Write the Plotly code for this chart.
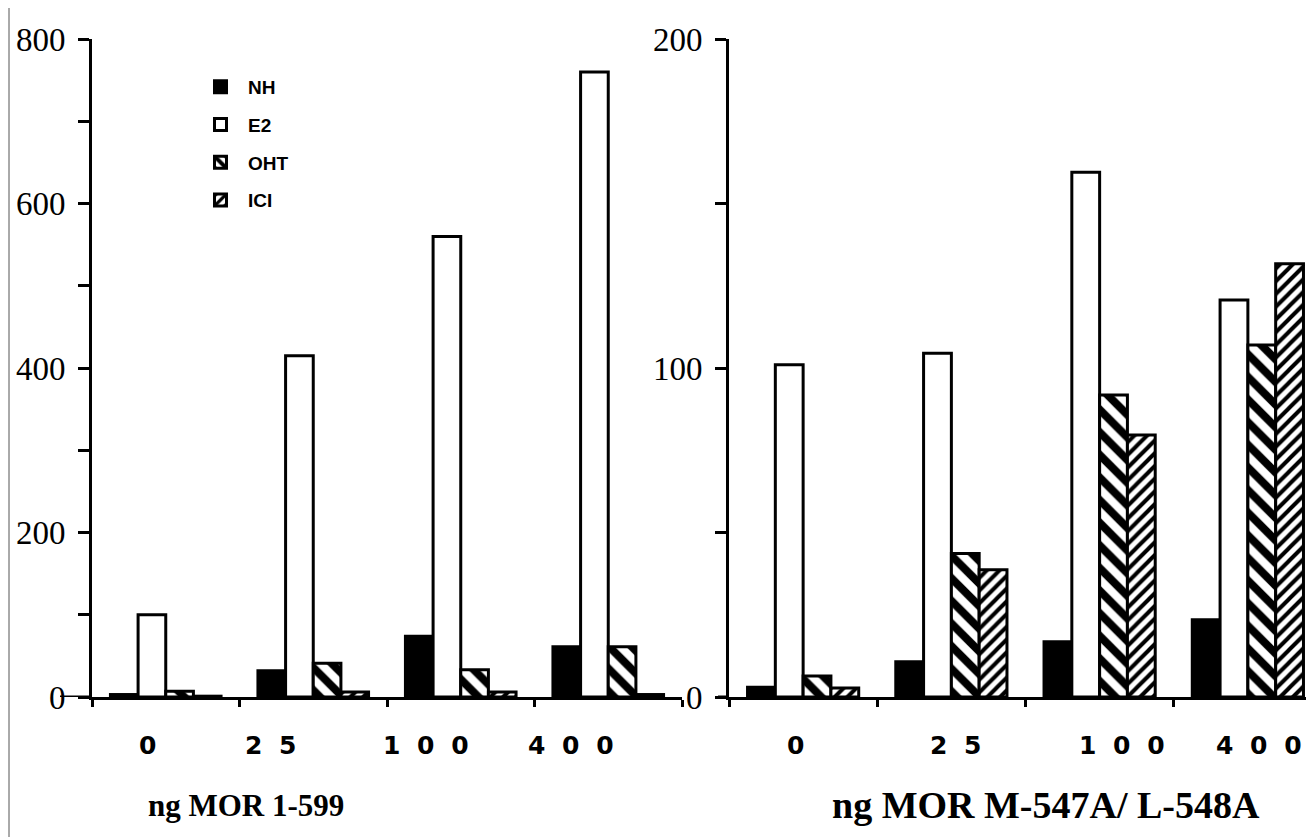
import plotly.graph_objects as go

# ---- data ----
doses = ["0", "25", "100", "400"]
sp = "\u2002\u2006"
dose_labels = ["0", "2" + sp + "5", "1" + sp + "0" + sp + "0", "4" + sp + "0" + sp + "0"]
series = ["NH", "E2", "OHT", "ICI"]

left_NH = [3, 32, 74, 61]
left_E2 = [100, 415, 560, 760]
left_OHT = [7, 41, 33, 61]
left_ICI = [1, 6, 6, 3]

right_NH = [3, 10.7, 16.8, 23.5]
right_E2 = [101, 104.5, 159.5, 120.7]
right_OHT = [6.4, 43.6, 91.8, 107]
right_ICI = [2.7, 38.7, 79.6, 131.7]

left_title = "ng MOR 1-599"
right_title = "ng MOR M-547A/ L-548A"

W, H = 1314, 837
OFF = 8  # page body margin
styles = {
    "NH": dict(color="black"),
    "E2": dict(color="white"),
    "OHT": dict(color="white", pattern=dict(shape="\\", fgcolor="black", bgcolor="white",
                                           fgopacity=1, size=16, solidity=0.5)),
    "ICI": dict(color="white", pattern=dict(shape="/", fgcolor="black", bgcolor="white",
                                           fgopacity=1, size=9, solidity=0.45)),
}

fig = go.Figure()
left_vals = [left_NH, left_E2, left_OHT, left_ICI]
right_vals = [right_NH, right_E2, right_OHT, right_ICI]
for name, vals in zip(series, left_vals):
    fig.add_trace(go.Bar(x=doses, y=vals, name=name, legendgroup=name,
                         marker=dict(**styles[name], line=dict(color="black", width=3)),
                         xaxis="x", yaxis="y"))
for name, vals in zip(series, right_vals):
    fig.add_trace(go.Bar(x=doses, y=vals, name=name, legendgroup=name, showlegend=False,
                         marker=dict(**styles[name], line=dict(color="black", width=3)),
                         xaxis="x2", yaxis="y2"))


def px(x):
    return (x - OFF) / W


tickfont = dict(family="Liberation Serif", size=33, color="black")
common_x = dict(type="category", showline=True, linecolor="black", linewidth=3,
                ticks="outside", tickson="boundaries", ticklen=7, tickwidth=3, tickcolor="black",
                showticklabels=False, showgrid=False, zeroline=False, fixedrange=True)
common_y = dict(showline=True, linecolor="black", linewidth=3, ticks="outside", ticklen=11,
                tickwidth=3, tickcolor="black", showgrid=False, zeroline=False,
                tickfont=tickfont, ticklabelstandoff=6)

top, bottom = 39 - OFF, 697 - OFF
plot_h = bottom - top

fig.update_layout(
    width=W, height=H,
    margin=dict(l=0, r=0, t=top, b=H - bottom),
    paper_bgcolor="white", plot_bgcolor="white",
    barmode="group", bargap=0.25, bargroupgap=0,
    xaxis=dict(domain=[px(92), px(682)], anchor="y", **common_x),
    yaxis=dict(domain=[0, 1], anchor="x", range=[0, 800],
               tickvals=[0, 100, 200, 300, 400, 500, 600, 700, 800],
               ticktext=["0", "", "200", "", "400", "", "600", "", "800"], **common_y),
    xaxis2=dict(domain=[px(729), 1.0], anchor="y2", **common_x),
    yaxis2=dict(domain=[0, 1], anchor="x2", range=[0, 200],
                tickvals=[0, 50, 100, 150, 200],
                ticktext=["0", "", "100", "", "200"], **common_y),
    showlegend=True,
    legend=dict(x=px(193), y=1 - (68 - OFF - top) / plot_h, xanchor="left", yanchor="top",
                font=dict(family="Liberation Sans Narrow, Liberation Sans", size=19,
                          color="black", weight="bold"),
                itemwidth=45, tracegroupgap=10, bgcolor="rgba(0,0,0,0)", itemclick=False),
    font=dict(family="Liberation Sans", color="black"),
)


def py(y):
    return -(y - OFF - bottom) / plot_h


left_pos = [147, 270, 426, 571]
right_pos = [795, 955, 1122, 1259]
ann = []
for lab, x in list(zip(dose_labels, left_pos)) + list(zip(dose_labels, right_pos)):
    ann.append(dict(x=px(x), y=py(745), xref="paper", yref="paper", xanchor="center",
                    yanchor="middle", text="<b>" + lab + "</b>", showarrow=False,
                    font=dict(family="DejaVu Sans", size=25, color="black")))
ann.append(dict(x=px(246), y=py(805), xref="paper", yref="paper", xanchor="center",
                yanchor="middle", text="<b>" + left_title + "</b>", showarrow=False,
                font=dict(family="Liberation Serif", size=31, color="black")))
ann.append(dict(x=px(1046), y=py(805), xref="paper", yref="paper", xanchor="center",
                yanchor="middle", text="<b>" + right_title + "</b>", showarrow=False,
                font=dict(family="Liberation Serif", size=38, color="black")))
fig.update_layout(annotations=ann)

# axis stubs left of the y-axes and the scan border line
fig.add_shape(type="line", xref="paper", yref="y", x0=px(60), x1=px(92), y0=0, y1=0,
              line=dict(color="black", width=3))
fig.add_shape(type="line", xref="paper", yref="y2", x0=px(718), x1=px(729), y0=0, y1=0,
              line=dict(color="black", width=3))
fig.add_shape(type="line", xref="paper", yref="paper", x0=px(9), x1=px(9), y0=-0.3, y1=1.1,
              line=dict(color="#555", width=1))

fig.write_html("out.html")
